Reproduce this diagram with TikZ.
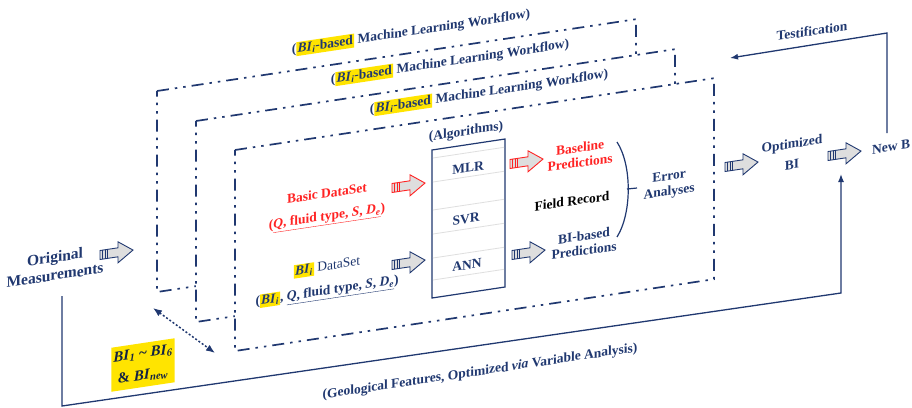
\documentclass[tikz,border=0pt]{standalone}
\usepackage{fontspec}
\setmainfont{Liberation Serif}
\usetikzlibrary{arrows.meta}
\definecolor{navy}{RGB}{32,56,112}
\definecolor{redc}{RGB}{255,35,35}
\definecolor{hlyellow}{RGB}{255,228,0}
\definecolor{arrgray}{RGB}{222,222,222}
\newcommand{\hly}[1]{{\setlength{\fboxsep}{1.2pt}\colorbox{hlyellow}{#1}}}
\newcommand{\BIsb}[1]{\textit{BI}\textsubscript{\textit{#1}}}
\newcommand{\Qset}{\textit{Q}, fluid type, \textit{S}, \textit{D}\textsubscript{\textit{e}}}
\begin{document}
\begin{tikzpicture}[x=1pt,y=-1pt,
  wf/.style={draw=navy, line width=1.7pt, dash pattern=on 12pt off 6pt on 2.5pt off 6pt on 2.5pt off 6pt, fill=white},
  lbl/.style={text=navy, font=\bfseries\fontsize{13.5}{15}\selectfont, yslant=0.15, inner sep=1pt, align=center},
  rlbl/.style={lbl, text=redc},
  conn/.style={draw=navy, line width=1.3pt},
  tip/.style={-{Latex[length=8pt,width=6pt]}},
  rowline/.style={draw=gray!25, line width=0.8pt},
  pics/barrow/.style={code={
     \draw[draw=#1, line width=0.9pt, fill=arrgray] (0,-4.5) -- (18,-4.5) -- (18,-10.5) -- (33,0) -- (18,10.5) -- (18,4.5) -- (0,4.5) -- cycle;
     \draw[draw=#1, line width=0.7pt] (2.5,-4.5) -- (2.5,4.5) (5,-4.5) -- (5,4.5) (7.5,-4.5) -- (7.5,4.5);
  }}
]
\useasboundingbox (0,0) rectangle (912,407);

% stacked workflow boxes
\draw[wf] (157,91) -- (636,19.2) -- (636,220.2) -- (157,292) -- cycle;
\node[lbl] (wf1) at (411,32) {(\hly{\BIsb{i}-based} Machine Learning Workflow)};
\draw[wf] (196,121) -- (675,49.2) -- (675,250.2) -- (196,322) -- cycle;
\node[lbl] (wf2) at (450,62) {(\hly{\BIsb{i}-based} Machine Learning Workflow)};
\draw[wf] (235,150) -- (714,78.2) -- (714,279.2) -- (235,351) -- cycle;
\node[lbl] (wf3) at (489,92) {(\hly{\BIsb{i}-based} Machine Learning Workflow)};

% datasets
\node[rlbl] (basic) at (327,193) {Basic DataSet};
\node[rlbl] (basicv) at (327,218) {(\underline{\Qset})};
\node[lbl] (bids) at (327,267) {\hly{\BIsb{i}} \mdseries DataSet};
\node[lbl] (bidsv) at (327,292) {(\hly{\BIsb{i}}, \underline{\Qset})};
\pic[yslant=0.15] at (392,188) {barrow=redc};
\pic[yslant=0.15] at (392,265) {barrow=navy};

% algorithms box
\node[lbl] (alg) at (466,132) {(Algorithms)};
\draw[navy, line width=1.2pt, fill=white] (432,150) -- (505,139) -- (505,287) -- (432,298) -- cycle;
\draw[rowline] (433,158) -- (504,147.3) (433,182) -- (504,171.3);
\draw[rowline] (433,210) -- (504,199.3) (433,234) -- (504,223.3);
\draw[rowline] (433,258) -- (504,247.3) (433,280) -- (504,269.3);
\node[lbl] (mlr) at (468,168) {MLR};
\node[lbl] (svr) at (466,219) {SVR};
\node[lbl] (ann) at (467,265) {ANN};

% predictions
\pic[yslant=0.15] at (510,164) {barrow=redc};
\pic[yslant=0.15] at (512,255) {barrow=navy};
\node[rlbl] (base) at (580,155) {Baseline\\Predictions};
\node[lbl, text=black] (field) at (572,201) {Field Record};
\node[lbl] (bipred) at (584,243) {BI-based\\Predictions};
\draw[navy, line width=1.2pt] (617,142) .. controls (632,165) and (632,213) .. (617,237);
\draw[navy, line width=1.2pt] (627,189) -- (637,188);
\node[lbl] (err) at (669,185) {Error\\Analyses};

% outside
\node[lbl, font=\bfseries\fontsize{15.5}{18}\selectfont] (orig) at (55,266) {Original\\Measurements};
\pic[yslant=0.15] at (100,255) {barrow=navy};
\pic[yslant=0.15] at (725,167) {barrow=navy};
\node[lbl, font=\bfseries\fontsize{13.5}{21}\selectfont] (opt) at (792,154) {Optimized\\BI};
\pic[yslant=0.15] at (828,156) {barrow=navy};
\node[lbl, anchor=west] (newbi) at (871,150) {New B};
\node[lbl] (testi) at (812,31) {Testification};

\node[lbl, fill=hlyellow, text=navy!60!black, font=\bfseries\fontsize{15}{22}\selectfont, minimum width=60pt, minimum height=44pt, inner sep=2pt] (bibox) at (143,365) {\BIsb{1} \textasciitilde\ \BIsb{6}\\ \& \BIsb{new}};
\node[lbl] (geo) at (480,372) {(Geological Features, Optimized \textit{via} Variable Analysis)};

% connectors
\coordinate (lstart) at (62,296);
\coordinate (lcorner1) at (62,406);
\coordinate (lcorner2) at (841,293);
\coordinate (lend) at (841,174);
\draw[conn, tip] (lstart) -- (lcorner1) -- (lcorner2) -- (lend);
\coordinate (tstart) at (887,133);
\coordinate (tcorner) at (887,33);
\coordinate (tend) at (730,58);
\draw[conn, tip] (tstart) -- (tcorner) -- (tend);
\coordinate (dA) at (153,308);
\coordinate (dB) at (215,353);
\draw[navy, line width=1.5pt, dash pattern=on 2pt off 2pt, {Latex[length=9pt,width=7pt]}-{Latex[length=9pt,width=7pt]}] (dA) -- (dB);
\end{tikzpicture}
\end{document}
